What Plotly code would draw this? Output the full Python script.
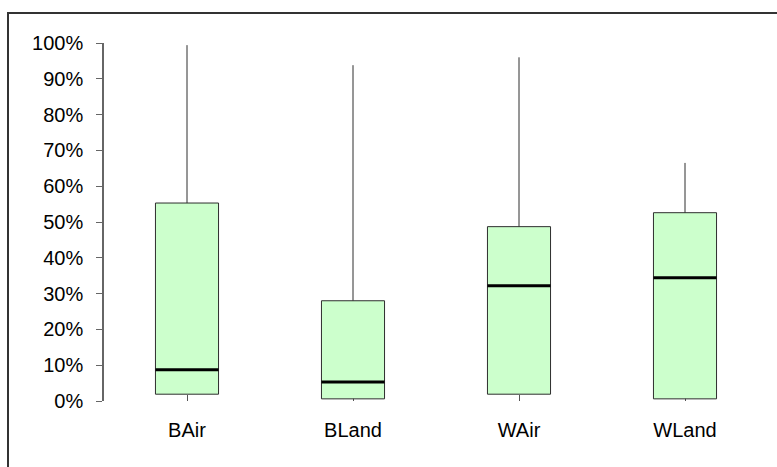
import plotly.graph_objects as go

categories = ["BAir", "BLand", "WAir", "WLand"]
q1_vals = [0.019, 0.006, 0.019, 0.006]
median_vals = [0.087, 0.053, 0.322, 0.344]
q3_vals = [0.553, 0.280, 0.487, 0.526]
max_vals = [0.994, 0.938, 0.960, 0.665]
y_ticks = [0, 0.1, 0.2, 0.3, 0.4, 0.5, 0.6, 0.7, 0.8, 0.9, 1.0]

box_w = 0.38
xs = list(range(len(categories)))

fig = go.Figure()
fig.add_trace(go.Box(
    x=xs, q1=q1_vals, median=median_vals, q3=q3_vals,
    lowerfence=q1_vals, upperfence=max_vals,
    width=box_w, whiskerwidth=0,
    fillcolor="#CCFFCC", line=dict(color="#2e2e2e", width=1),
    boxpoints=False, hoverinfo="skip", showlegend=False,
))
for i, m in zip(xs, median_vals):
    fig.add_trace(go.Scatter(
        x=[i - box_w / 2, i + box_w / 2], y=[m, m], mode="lines",
        line=dict(color="black", width=3), showlegend=False, hoverinfo="skip",
    ))

fig.update_layout(
    width=777, height=467,
    margin=dict(l=104, r=9, t=43, b=66),
    paper_bgcolor="white", plot_bgcolor="white",
    font=dict(family="Liberation Sans, Arial, sans-serif", size=20, color="black"),
    xaxis=dict(
        range=[-0.5, 3.5], tickvals=xs, ticktext=categories,
        showline=False, showgrid=False, zeroline=False,
        ticks="inside", ticklen=6, tickcolor="#555555", layer="below traces",
        ticklabelstandoff=15,
    ),
    yaxis=dict(
        range=[0, 1], tickvals=y_ticks, tickformat=".0%",
        showline=True, linecolor="#666666", linewidth=1.5,
        showgrid=False, zeroline=False,
        ticks="outside", ticklen=6, tickcolor="#666666",
        ticklabelstandoff=9,
    ),
    shapes=[dict(
        type="rect", xref="paper", yref="paper",
        x0=(8 - 104) / 664, x1=1.2, y0=-0.4, y1=(401 - 13) / 358,
        line=dict(color="#333333", width=2), fillcolor="rgba(0,0,0,0)",
    )],
)

fig.write_html(
    "out.html",
    config={"displayModeBar": False},
    post_script="document.body.style.margin='0';document.body.style.overflow='hidden';",
)
